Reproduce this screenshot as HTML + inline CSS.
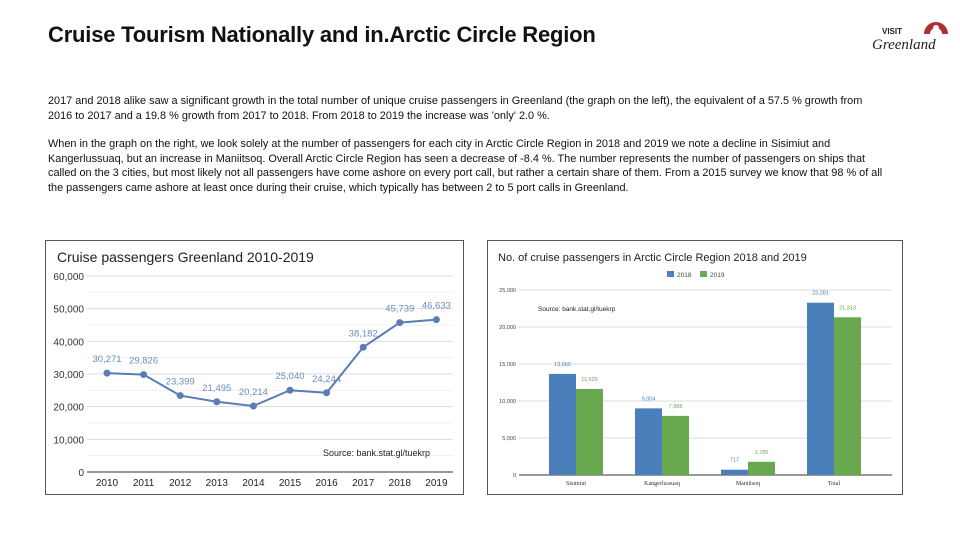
<!DOCTYPE html>
<html><head><meta charset="utf-8"><style>
body{margin:0;width:960px;height:540px;background:#fff;font-family:"Liberation Sans",sans-serif;position:relative;overflow:hidden}
h1{position:absolute;left:48px;top:22px;margin:0;font-size:22px;font-weight:bold;color:#111;letter-spacing:-0.2px}
.p{position:absolute;left:48px;width:840px;font-size:10.9px;line-height:14.5px;color:#111}
.frame{position:absolute;border:1px solid #555;background:#fff}
</style></head><body>
<h1>Cruise Tourism Nationally and in.Arctic Circle Region</h1>
<div style="position:absolute;left:870px;top:14px;width:80px;height:42px">
<svg width="80" height="42"><path d="M54 20 A12 12 0 1 1 78 20 L72 20 A6 6 0 1 0 60 20 Z" fill="#b03030"/><circle cx="66" cy="14" r="3" fill="#fff"/>
<text x="12" y="20" font-size="8" font-weight="bold" fill="#222" font-family="Liberation Sans">VISIT</text>
<text x="2" y="35" font-size="15" font-style="italic" fill="#222" font-family="Liberation Serif">Greenland</text></svg></div>
<div class="p" style="top:94px">2017 and 2018 alike saw a significant growth in the total number of unique cruise passengers in Greenland (the graph on the left), the equivalent of a 57.5 % growth from 2016 to 2017 and a 19.8 % growth from 2017 to 2018. From 2018 to 2019 the increase was 'only' 2.0 %.</div>
<div class="p" style="top:137px">When in the graph on the right, we look solely at the number of passengers for each city in Arctic Circle Region in 2018 and 2019 we note a decline in Sisimiut and Kangerlussuaq, but an increase in Maniitsoq. Overall Arctic Circle Region has seen a decrease of -8.4 %. The number represents the number of passengers on ships that called on the 3 cities, but most likely not all passengers have come ashore on every port call, but rather a certain share of them. From a 2015 survey we know that 98 % of all the passengers came ashore at least once during their cruise, which typically has between 2 to 5 port calls in Greenland.</div>

<div class="frame" style="left:45px;top:240px;width:417px;height:253px"></div>
<svg id="lc" width="960" height="540" style="position:absolute;left:0;top:0" font-family="Liberation Sans"></svg>
<div class="frame" style="left:487px;top:240px;width:414px;height:253px"></div>
<svg id="bc" width="960" height="540" style="position:absolute;left:0;top:0" font-family="Liberation Sans"></svg>
<script>
const years=["2010","2011","2012","2013","2014","2015","2016","2017","2018","2019"];
const passengers=[30271,29826,23399,21495,20214,25040,24244,38182,45739,46633];
const lineTicks=[0,10000,20000,30000,40000,50000,60000];
const cities=["Sisimiut","Kangerlussuaq","Maniitsoq","Total"];
const v2018=[13660,9004,717,23281];
const v2019=[11625,7988,1785,21313];
const barTicks=[0,5000,10000,15000,20000,25000];
const NS="http://www.w3.org/2000/svg";
function mk(svg,tag,attrs,txt){const e=document.createElementNS(NS,tag);for(const k in attrs)e.setAttribute(k,attrs[k]);if(txt!==undefined)e.textContent=txt;svg.appendChild(e);return e;}
const fmt=v=>v.toLocaleString("en-US");
// line chart
const lc=document.getElementById('lc');
const ly=v=>472-v*(196/60000), lx=i=>107+i*36.6;
mk(lc,'text',{x:57,y:262,'font-size':14,fill:'#222'},'Cruise passengers Greenland 2010-2019');
lineTicks.forEach(t=>{
 const g=mk(lc,'line',{x1:87,x2:453,y1:ly(t),y2:ly(t),stroke:t?'#ddd':'#333','stroke-width':1});
 
 if(t<60000){mk(lc,'line',{x1:87,x2:453,y1:ly(t+5000),y2:ly(t+5000),stroke:'#f0f0f0'});}
 const l=mk(lc,'text',{x:84,y:ly(t)+4,'font-size':10,fill:'#333','text-anchor':'end'},fmt(t));
 
});
years.forEach((y,i)=>{const l=mk(lc,'text',{x:lx(i),y:486,'font-size':10,fill:'#222','text-anchor':'middle'},y);
 });
const line=mk(lc,'polyline',{points:passengers.map((v,i)=>lx(i)+','+ly(v)).join(' '),fill:'none',stroke:'#5a7db3','stroke-width':2});

passengers.forEach((v,i)=>{const c=mk(lc,'circle',{cx:lx(i),cy:ly(v),r:3.5,fill:'#5a7db3'});
 
 const l=mk(lc,'text',{x:lx(i),y:ly(v)-11,'font-size':9.5,fill:'#6a8cc0','text-anchor':'middle'},fmt(v));
 });
mk(lc,'text',{x:323,y:456,'font-size':9,fill:'#222'},'Source: bank.stat.gl/tuekrp');
// bar chart
const bc=document.getElementById('bc');
const by=v=>475-v*(185/25000), bx=i=>576+i*86, bw=27;
mk(bc,'text',{x:498,y:261,'font-size':11,fill:'#222'},'No. of cruise passengers in Arctic Circle Region 2018 and 2019');
mk(bc,'rect',{x:667,y:271,width:7,height:6,fill:'#4a7fbb'});mk(bc,'text',{x:677,y:277,'font-size':6.5,fill:'#444'},'2018');
mk(bc,'rect',{x:700,y:271,width:7,height:6,fill:'#6aa84f'});mk(bc,'text',{x:710,y:277,'font-size':6.5,fill:'#444'},'2019');
barTicks.forEach(t=>{
 const g=mk(bc,'line',{x1:519,x2:892,y1:by(t),y2:by(t),stroke:t?'#ddd':'#333'});
 
 const l=mk(bc,'text',{x:516,y:by(t)+2,'font-size':5.5,fill:'#444','text-anchor':'end'},fmt(t));
 });
mk(bc,'text',{x:538,y:311,'font-size':6.5,fill:'#222'},'Source: bank.stat.gl/tuekrp');
cities.forEach((c,i)=>{
 const a=mk(bc,'rect',{x:bx(i)-bw,y:by(v2018[i]),width:bw,height:475-by(v2018[i]),fill:'#4a7fbb'});
 
 const b=mk(bc,'rect',{x:bx(i),y:by(v2019[i]),width:bw,height:475-by(v2019[i]),fill:'#6aa84f'});
 
 const l1=mk(bc,'text',{x:bx(i)-bw/2,y:by(v2018[i])-8,'font-size':5.5,fill:'#4a7fbb','text-anchor':'middle'},fmt(v2018[i]));
 
 const l2=mk(bc,'text',{x:bx(i)+bw/2,y:by(v2019[i])-8,'font-size':5.5,fill:'#6aa84f','text-anchor':'middle'},fmt(v2019[i]));
 
 const x=mk(bc,'text',{x:bx(i),y:485,'font-size':6,fill:'#333','text-anchor':'middle','font-family':'Liberation Serif'},c);
 });
</script>
</body></html>
